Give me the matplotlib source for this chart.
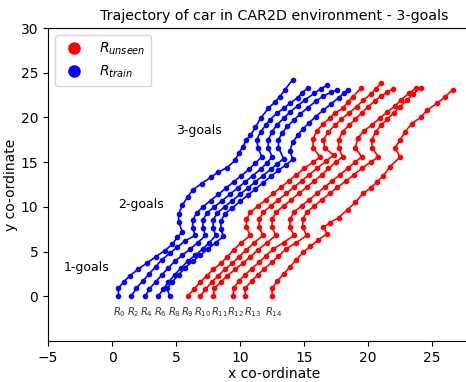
import matplotlib
matplotlib.use("Agg")
import matplotlib.pyplot as plt
from matplotlib.lines import Line2D

# ---- data: trajectories (train = blue, unseen = red) ----
R0_x = [0.5, 0.5, 0.9, 1.4, 2.0, 2.7, 3.4, 4.1, 4.7, 5.1, 5.5, 5.2, 5.2, 5.5, 5.9, 6.3, 7.0, 7.7, 8.3, 9.0, 9.6, 9.9, 10.2, 10.5, 10.8, 11.2, 11.6, 12.2, 12.7, 13.1, 13.5, 14.1]
R0_y = [0.0, 0.9, 1.6, 2.3, 3.0, 3.7, 4.4, 5.1, 5.8, 6.6, 7.2, 8.3, 9.2, 10.2, 11.1, 11.9, 12.6, 13.3, 13.9, 14.4, 15.2, 16.0, 16.7, 17.5, 18.0, 18.9, 19.9, 21.0, 21.7, 22.3, 23.1, 24.2]

R2_x = [1.5, 1.9, 2.4, 2.9, 3.4, 3.9, 4.5, 5.1, 5.7, 6.5, 6.3, 6.3, 6.6, 7.1, 7.7, 8.3, 8.9, 9.5, 10.1, 10.7, 11.2, 11.7, 11.4, 11.3, 11.6, 12.0, 12.3, 12.9, 13.4, 13.9, 14.5, 14.8, 15.3]
R2_y = [0.0, 0.9, 1.7, 2.5, 3.3, 4.1, 4.8, 5.5, 6.2, 6.8, 7.6, 8.5, 9.3, 10.0, 10.7, 11.4, 12.1, 12.8, 13.5, 14.2, 14.9, 15.6, 16.6, 17.5, 18.4, 19.1, 19.7, 20.5, 21.0, 21.6, 22.2, 22.7, 23.3]

R4_x = [2.6, 2.9, 3.4, 3.9, 4.4, 4.9, 5.5, 6.1, 6.7, 7.3, 7.1, 7.1, 7.4, 8.0, 8.6, 9.2, 9.8, 10.4, 11.0, 11.6, 12.1, 12.5, 12.2, 12.2, 12.5, 12.9, 13.4, 13.9, 14.5, 15.1, 15.8, 16.3, 16.8]
R4_y = [0.0, 0.8, 1.6, 2.4, 3.2, 3.9, 4.6, 5.3, 6.0, 6.8, 7.6, 8.5, 9.3, 10.0, 10.7, 11.4, 12.1, 12.8, 13.5, 14.2, 14.9, 15.6, 16.6, 17.5, 18.4, 19.2, 19.9, 20.6, 21.3, 22.0, 22.7, 23.2, 23.6]

R6_x = [3.6, 4.0, 4.4, 4.9, 5.4, 5.9, 6.5, 7.1, 7.6, 8.1, 7.9, 7.9, 8.2, 8.8, 9.4, 10.0, 10.6, 11.2, 11.8, 12.4, 12.9, 13.4, 13.0, 13.0, 13.3, 13.7, 14.2, 14.7, 15.3, 15.9, 16.5, 17.1, 17.6]
R6_y = [0.0, 0.8, 1.6, 2.4, 3.2, 3.9, 4.6, 5.3, 6.0, 6.8, 7.6, 8.5, 9.3, 10.0, 10.7, 11.4, 12.1, 12.8, 13.5, 14.2, 14.8, 15.4, 16.6, 17.5, 18.3, 19.0, 19.7, 20.4, 21.1, 21.8, 22.4, 22.8, 23.1]

R8_x = [4.5, 4.3, 4.7, 5.2, 5.7, 6.3, 6.9, 7.5, 8.1, 8.7, 8.5, 8.5, 8.8, 9.4, 10.0, 10.6, 11.2, 11.8, 12.4, 13.0, 13.6, 14.1, 13.9, 14.1, 14.5, 14.9, 15.4, 15.9, 16.5, 17.1, 17.7, 18.1, 18.4]
R8_y = [0.0, 0.9, 1.6, 2.4, 3.2, 3.9, 4.6, 5.3, 6.0, 6.7, 7.5, 8.4, 9.2, 9.9, 10.6, 11.3, 12.0, 12.7, 13.4, 14.1, 14.7, 15.3, 16.3, 17.2, 18.0, 18.7, 19.4, 20.1, 20.8, 21.5, 22.2, 22.7, 23.1]

R9_x = [5.9, 6.4, 6.9, 7.4, 7.9, 8.5, 9.0, 9.5, 10.1, 10.8, 10.5, 10.5, 10.8, 11.4, 12.0, 12.6, 13.2, 13.8, 14.4, 15.0, 15.7, 16.25, 15.7, 15.7, 16.0, 16.5, 17.0, 17.4, 18.0, 18.4, 18.8, 19.45]
R9_y = [0.0, 0.8, 1.6, 2.3, 3.0, 3.7, 4.4, 5.2, 6.0, 6.8, 7.7, 8.6, 9.4, 10.1, 10.8, 11.5, 12.2, 12.9, 13.6, 14.3, 15.0, 15.56, 16.6, 17.6, 18.5, 19.3, 19.9, 20.5, 21.0, 21.7, 22.3, 23.3]

R10_x = [6.9, 7.3, 7.8, 8.3, 8.8, 9.4, 9.9, 10.5, 11.1, 11.8, 11.5, 11.5, 11.8, 12.4, 13.0, 13.6, 14.2, 14.8, 15.4, 16.0, 16.7, 17.3, 16.6, 16.5, 16.9, 17.4, 17.9, 18.5, 19.1, 19.6, 20.2, 20.6, 21.0]
R10_y = [0.0, 0.8, 1.6, 2.3, 3.0, 3.7, 4.4, 5.2, 6.0, 6.8, 7.7, 8.6, 9.4, 10.1, 10.8, 11.5, 12.2, 12.9, 13.6, 14.3, 15.1, 15.8, 16.6, 17.5, 18.4, 19.1, 19.8, 20.5, 21.2, 21.9, 22.6, 23.2, 23.8]

R11_x = [7.9, 8.0, 8.5, 9.0, 9.6, 10.2, 10.8, 11.4, 12.1, 12.8, 12.5, 12.5, 12.8, 13.4, 14.0, 14.6, 15.2, 15.8, 16.4, 16.9, 17.5, 18.0, 17.7, 17.7, 18.0, 18.5, 19.0, 19.5, 20.0, 20.5, 21.0, 21.5, 21.95]
R11_y = [0.0, 0.9, 1.6, 2.3, 3.0, 3.7, 4.4, 5.2, 6.0, 6.8, 7.7, 8.6, 9.4, 10.1, 10.8, 11.5, 12.2, 12.9, 13.6, 14.3, 15.0, 15.6, 16.6, 17.5, 18.4, 19.1, 19.8, 20.5, 21.2, 21.8, 22.4, 22.8, 23.2]

R12_x = [9.45, 9.5, 9.9, 10.4, 10.9, 11.5, 12.0, 12.6, 13.4, 14.2, 13.9, 13.9, 14.2, 14.8, 15.4, 16.0, 16.6, 17.2, 17.8, 18.4, 19.0, 19.5, 19.0, 19.2, 19.7, 20.3, 20.9, 21.5, 22.1, 22.6, 23.2, 23.75]
R12_y = [0.0, 0.9, 1.7, 2.4, 3.1, 3.8, 4.5, 5.3, 6.0, 6.8, 7.7, 8.6, 9.4, 10.1, 10.8, 11.5, 12.2, 12.9, 13.6, 14.3, 15.0, 15.6, 16.6, 17.7, 18.5, 19.2, 19.9, 20.6, 21.3, 22.0, 22.7, 23.3]

R13_x = [10.4, 10.4, 10.9, 11.4, 11.9, 12.5, 13.0, 13.6, 14.4, 15.2, 14.9, 14.9, 15.2, 15.8, 16.4, 17.0, 17.6, 18.3, 18.9, 19.5, 20.2, 20.8, 20.3, 20.3, 20.6, 21.0, 21.5, 22.0, 22.5, 23.0, 23.5, 24.1]
R13_y = [0.0, 0.9, 1.7, 2.4, 3.1, 3.8, 4.5, 5.3, 6.0, 6.8, 7.7, 8.6, 9.4, 10.1, 10.8, 11.5, 12.2, 12.9, 13.6, 14.3, 15.0, 15.6, 16.6, 17.5, 18.4, 19.1, 19.8, 20.5, 21.2, 21.9, 22.6, 23.3]

R14_x = [12.5, 12.5, 12.9, 13.4, 13.9, 14.4, 14.9, 15.5, 16.1, 16.8, 16.5, 17.0, 17.7, 18.4, 19.0, 19.6, 20.2, 20.7, 21.2, 21.7, 22.5, 22.1, 22.5, 22.9, 23.4, 24.1, 24.6, 25.4, 26.0, 26.6]
R14_y = [0.0, 0.9, 1.7, 2.5, 3.3, 4.1, 4.9, 5.6, 6.3, 7.0, 7.7, 8.2, 8.8, 9.7, 10.5, 11.5, 12.1, 12.8, 13.5, 14.5, 15.56, 16.6, 17.5, 18.4, 19.3, 20.0, 20.8, 21.6, 22.3, 23.1]

train_names = ["R0", "R2", "R4", "R6", "R8"]
train_x = [R0_x, R2_x, R4_x, R6_x, R8_x]
train_y = [R0_y, R2_y, R4_y, R6_y, R8_y]
unseen_names = ["R9", "R10", "R11", "R12", "R13", "R14"]
unseen_x = [R9_x, R10_x, R11_x, R12_x, R13_x, R14_x]
unseen_y = [R9_y, R10_y, R11_y, R12_y, R13_y, R14_y]

label_texts = ["$R_{0}$", "$R_{2}$", "$R_{4}$", "$R_{6}$", "$R_{8}$", "$R_{9}$",
               "$R_{10}$", "$R_{11}$", "$R_{12}$", "$R_{13}$", "$R_{14}$"]
label_x = [0.55, 1.64, 2.66, 3.75, 4.84, 5.86, 7.1, 8.4, 9.65, 11.0, 12.6]
label_y = -1.8

goal_texts = ["1-goals", "2-goals", "3-goals"]
goal_x = [-2.0, 2.27, 6.8]
goal_y = [3.25, 10.3, 18.5]

# ---- figure ----
fig = plt.figure(figsize=(4.66, 3.82), dpi=100)
ax = fig.add_axes([48/466, 41/382, (500-48)/466, (341-28)/382])

for xs, ys in zip(train_x, train_y):
    ax.plot(xs, ys, '-o', color='blue', markersize=3.0, linewidth=1.2)
for xs, ys in zip(unseen_x, unseen_y):
    ax.plot(xs, ys, '-o', color='red', markersize=3.0, linewidth=1.2)

for t, lx in zip(label_texts, label_x):
    ax.text(lx, label_y, t, ha='center', va='center', fontsize=7.2, color='#333333')
for t, gx, gy in zip(goal_texts, goal_x, goal_y):
    ax.text(gx, gy, t, ha='center', va='center', fontsize=9)

ax.set_xlim(-5, 30.3)
ax.set_ylim(-5, 30)
ax.set_xticks([-5, 0, 5, 10, 15, 20, 25])
ax.set_yticks([0, 5, 10, 15, 20, 25, 30])
ax.set_xlabel("x co-ordinate", fontsize=10, labelpad=2)
ax.set_ylabel("y co-ordinate", fontsize=10, labelpad=2)
ax.set_title("Trajectory of car in CAR2D environment - 3-goals", fontsize=10.3)

handles = [Line2D([], [], marker='o', color='red', linestyle='', markersize=8),
           Line2D([], [], marker='o', color='blue', linestyle='', markersize=8)]
ax.legend(handles, ["$R_{unseen}$", "$R_{train}$"], loc='upper left', fontsize=10)

fig.savefig("out.png", dpi=100)
